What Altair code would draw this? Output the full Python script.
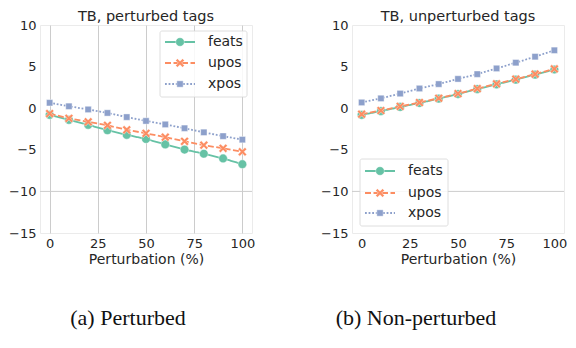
import altair as alt
import pandas as pd

perturbation = [0, 10, 20, 30, 40, 50, 60, 70, 80, 90, 100]
series_names = ["feats", "upos", "xpos"]

# (a) perturbed tags
pert_feats = [-0.8, -1.4, -2.0, -2.65, -3.2, -3.7, -4.35, -4.97, -5.47, -6.04, -6.73]
pert_upos = [-0.65, -1.22, -1.64, -2.06, -2.6, -3.02, -3.48, -3.98, -4.44, -4.82, -5.24]
pert_xpos = [0.65, 0.23, -0.15, -0.57, -1.07, -1.53, -1.95, -2.41, -2.9, -3.36, -3.78]

# (b) unperturbed tags
unpert_feats = [-0.8, -0.35, 0.15, 0.62, 1.15, 1.7, 2.3, 2.87, 3.43, 4.03, 4.65]
unpert_upos = [-0.72, -0.28, 0.22, 0.68, 1.2, 1.75, 2.35, 2.93, 3.49, 4.1, 4.72]
unpert_xpos = [0.69, 1.18, 1.76, 2.37, 2.9, 3.52, 4.09, 4.78, 5.47, 6.19, 6.96]

x_ticks = [0, 25, 50, 75, 100]
y_ticks = [-15, -10, -5, 0, 5, 10]

colors = ["#66c2a5", "#fc8d62", "#8da0cb"]
dashes = [[1, 0], [6, 2.5], [1.8, 1.8]]
X_PATH = "M-1,-0.6L-0.6,-1L0,-0.4L0.6,-1L1,-0.6L0.4,0L1,0.6L0.6,1L0,0.4L-0.6,1L-1,0.6L-0.4,0Z"
shapes = ["circle", X_PATH, "square"]
sizes = [75, 75, 40]

W, H = 212, 208
TXT = "#262626"
one = pd.DataFrame({"a": [0]})


def panel(title, values, legend_corner, caption, cap_x, xgrid):
    xenc = alt.X("p:Q", scale=alt.Scale(domain=[-5, 105], nice=False, zero=False),
                 axis=alt.Axis(values=x_ticks, title="Perturbation (%)", grid=xgrid))
    yenc = alt.Y("v:Q", scale=alt.Scale(domain=[-15, 10], nice=False, zero=False),
                 axis=alt.Axis(values=y_ticks, title=None, grid=False))
    layers = [alt.Chart(pd.DataFrame({"v": [-10]})).mark_rule(color="#cccccc", strokeWidth=1).encode(y="v:Q")]
    for i, name in enumerate(series_names):
        df = pd.DataFrame({"p": perturbation, "v": values[i]})
        base = alt.Chart(df).encode(x=xenc, y=yenc)
        layers.append(base.mark_line(color=colors[i], strokeWidth=1.8, strokeDash=dashes[i]))
        layers.append(base.mark_point(filled=True, color=colors[i], shape=shapes[i], size=sizes[i],
                                      opacity=1, stroke="white", strokeWidth=0.4))
    # legend
    if legend_corner == "tr":
        bx0, bx1, by0, by1 = W - 92, W - 5, 6, 72
        rows = [17, 38, 59]
        sx = W - 87
    else:
        bx0, bx1, by0, by1 = 8, 96, H - 74, H - 7
        rows = [H - 62, H - 40, H - 20]
        sx = 13
    layers.append(alt.Chart(one).mark_rect(fill="white", fillOpacity=0.85, stroke="#d6d6d6",
                                            strokeWidth=0.8, cornerRadius=2).encode(
        x=alt.value(bx0), x2=alt.value(bx1), y=alt.value(by0), y2=alt.value(by1)))
    for i, name in enumerate(series_names):
        layers.append(alt.Chart(one).mark_rule(color=colors[i], strokeWidth=1.8, strokeDash=dashes[i]).encode(
            x=alt.value(sx), x2=alt.value(sx + 30), y=alt.value(rows[i])))
        layers.append(alt.Chart(one).mark_point(filled=True, color=colors[i], shape=shapes[i], size=sizes[i],
                                                opacity=1, stroke="white", strokeWidth=0.4).encode(
            x=alt.value(sx + 15), y=alt.value(rows[i])))
        layers.append(alt.Chart(pd.DataFrame({"t": [name]})).mark_text(
            align="left", baseline="middle", fontSize=14, font="DejaVu Sans", color=TXT).encode(
            x=alt.value(sx + 43), y=alt.value(rows[i]), text="t:N"))
    layers.append(alt.Chart(pd.DataFrame({"t": [caption]})).mark_text(
        align="center", baseline="alphabetic", fontSize=22, font="Liberation Serif", color="#111111").encode(
        x=alt.value(cap_x), y=alt.value(H + 92), text="t:N"))
    return alt.layer(*layers).properties(
        width=W, height=H,
        title=alt.TitleParams(title, fontSize=14.5, font="DejaVu Sans", fontWeight="normal",
                              color=TXT, offset=-5, anchor="middle"))


left = panel("TB, perturbed tags", [pert_feats, pert_upos, pert_xpos], "tr", "(a) Perturbed", 88, True)
right = panel("TB, unperturbed tags", [unpert_feats, unpert_upos, unpert_xpos], "bl", "(b) Non-perturbed", 64, False)

chart = alt.hconcat(left, right, spacing=64).properties(
    padding={"left": 0, "top": 0, "right": 0, "bottom": 0}
).configure_axis(
    labelFont="DejaVu Sans", labelFontSize=13, labelColor=TXT, ticks=False, domain=False,
    labelPadding=4, titleFont="DejaVu Sans", titleFontSize=14, titleFontWeight="normal",
    titleColor=TXT, titlePadding=2, gridColor="#cccccc", gridWidth=1
).configure_view(stroke="#ebebeb")

chart.save("out.html", embed_options={"renderer": "svg", "actions": False})
